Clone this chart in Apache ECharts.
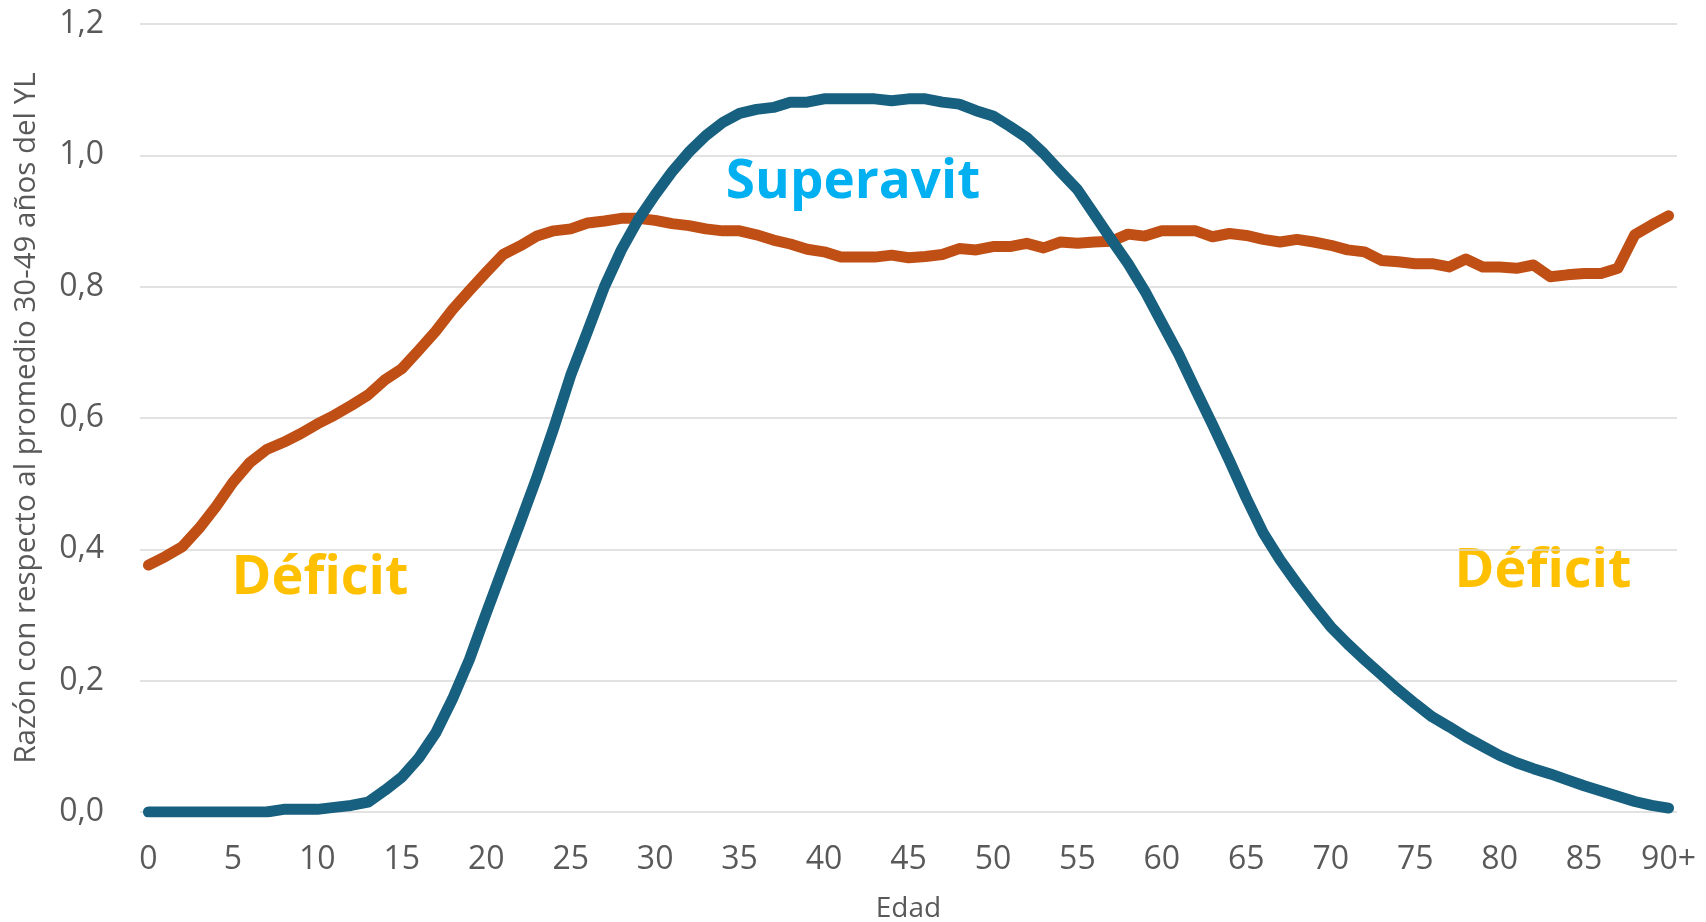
<!DOCTYPE html>
<html>
<head>
<meta charset="utf-8">
<title>Razón con respecto al promedio 30-49 años del YL</title>
<script src="https://cdn.jsdelivr.net/npm/echarts@6.0.0/dist/echarts.min.js"></script>
<style>
    html, body { margin: 0; padding: 0; background: #fff; }
    #main { width: 1706px; height: 922px; }
</style>
</head>
<body>
<div id="main"></div>
<script>
// edades 0..89 y 90+
var edades = [];
for (var i = 0; i < 90; i++) { edades.push(String(i)); }
edades.push('90+');

// ingreso laboral (YL), razon con respecto al promedio 30-49
var ingresoLaboral = [
    0, 0, 0, 0, 0, 0, 0, 0, 0.004, 0.004,
    0.004, 0.007, 0.010, 0.015, 0.033, 0.053, 0.082, 0.120, 0.172, 0.232,
    0.303, 0.372, 0.440, 0.510, 0.585, 0.665, 0.732, 0.800, 0.856, 0.902,
    0.940, 0.975, 1.005, 1.030, 1.050, 1.064, 1.070, 1.073, 1.081, 1.081,
    1.086, 1.086, 1.086, 1.086, 1.083, 1.086, 1.086, 1.081, 1.078, 1.068,
    1.060, 1.044, 1.027, 1.003, 0.975, 0.948, 0.910, 0.872, 0.835, 0.793,
    0.745, 0.697, 0.643, 0.590, 0.535, 0.478, 0.425, 0.384, 0.348, 0.314,
    0.282, 0.256, 0.232, 0.209, 0.186, 0.165, 0.145, 0.130, 0.114, 0.100,
    0.086, 0.075, 0.066, 0.058, 0.049, 0.040, 0.032, 0.024, 0.016, 0.010,
    0.006
];

// consumo, misma normalizacion
var consumo = [
    0.376, 0.389, 0.404, 0.432, 0.465, 0.502, 0.532, 0.552, 0.563, 0.576,
    0.591, 0.604, 0.619, 0.635, 0.658, 0.675, 0.703, 0.732, 0.765, 0.794,
    0.822, 0.849, 0.862, 0.877, 0.885, 0.888, 0.897, 0.900, 0.904, 0.904,
    0.901, 0.896, 0.893, 0.888, 0.885, 0.885, 0.879, 0.871, 0.865, 0.857,
    0.853, 0.845, 0.845, 0.845, 0.848, 0.844, 0.846, 0.849, 0.858, 0.856,
    0.861, 0.861, 0.866, 0.859, 0.868, 0.866, 0.868, 0.869, 0.880, 0.877,
    0.885, 0.885, 0.885, 0.876, 0.881, 0.878, 0.872, 0.868, 0.872, 0.868,
    0.863, 0.856, 0.853, 0.840, 0.838, 0.835, 0.835, 0.830, 0.842, 0.830,
    0.830, 0.828, 0.833, 0.815, 0.818, 0.820, 0.820, 0.828, 0.879, 0.894,
    0.908
];

var gris = '#595959';
var fuente = '"Open Sans", "DejaVu Sans", sans-serif';

var myChart = echarts.init(document.getElementById('main'));

option = {
    backgroundColor: '#FFFFFF',
    animation: false,
    grid: {
        left: 140,
        right: 29,
        top: 24,
        bottom: 110,
        outerBoundsMode: 'none'
    },
    xAxis: {
        type: 'category',
        data: edades,
        boundaryGap: true,
        name: 'Edad',
        nameLocation: 'middle',
        nameGap: 83,
        nameTextStyle: { color: gris, fontSize: 28, fontFamily: fuente },
        axisLine: { show: false },
        axisTick: { show: false },
        axisLabel: {
            interval: 4,
            margin: 32,
            color: gris,
            fontSize: 32,
            fontFamily: fuente
        }
    },
    yAxis: {
        type: 'value',
        min: 0,
        max: 1.2,
        interval: 0.2,
        name: 'Razón con respecto al promedio 30-49 años del YL',
        nameLocation: 'middle',
        nameGap: 98,
        nameTextStyle: { color: gris, fontSize: 29.5, fontFamily: fuente },
        axisLabel: {
            margin: 36,
            color: gris,
            fontSize: 32,
            fontFamily: fuente,
            formatter: function (v) { return v.toFixed(1).replace('.', ','); }
        },
        splitLine: { lineStyle: { color: '#d9d9d9', width: 1.5 } }
    },
    series: [
        {
            name: 'Consumo',
            type: 'line',
            data: consumo,
            showSymbol: false,
            lineStyle: { color: '#C04F15', width: 11, cap: 'round', join: 'round' }
        },
        {
            name: 'Ingreso laboral (YL)',
            type: 'line',
            data: ingresoLaboral,
            showSymbol: false,
            lineStyle: { color: '#17607F', width: 11, cap: 'round', join: 'round' }
        }
    ],
    graphic: [
        {
            type: 'text', x: 320, y: 579,
            style: { text: 'Déficit', fill: '#FFC000', font: 'bold 54px ' + fuente, align: 'center', verticalAlign: 'middle' }
        },
        {
            type: 'text', x: 1543, y: 572,
            style: { text: 'Déficit', fill: '#FFC000', font: 'bold 54px ' + fuente, align: 'center', verticalAlign: 'middle' }
        },
        {
            type: 'text', x: 853, y: 183,
            style: { text: 'Superavit', fill: '#00B0F0', font: 'bold 53px ' + fuente, align: 'center', verticalAlign: 'middle' }
        }
    ]
};

myChart.setOption(option);
</script>
</body>
</html>
